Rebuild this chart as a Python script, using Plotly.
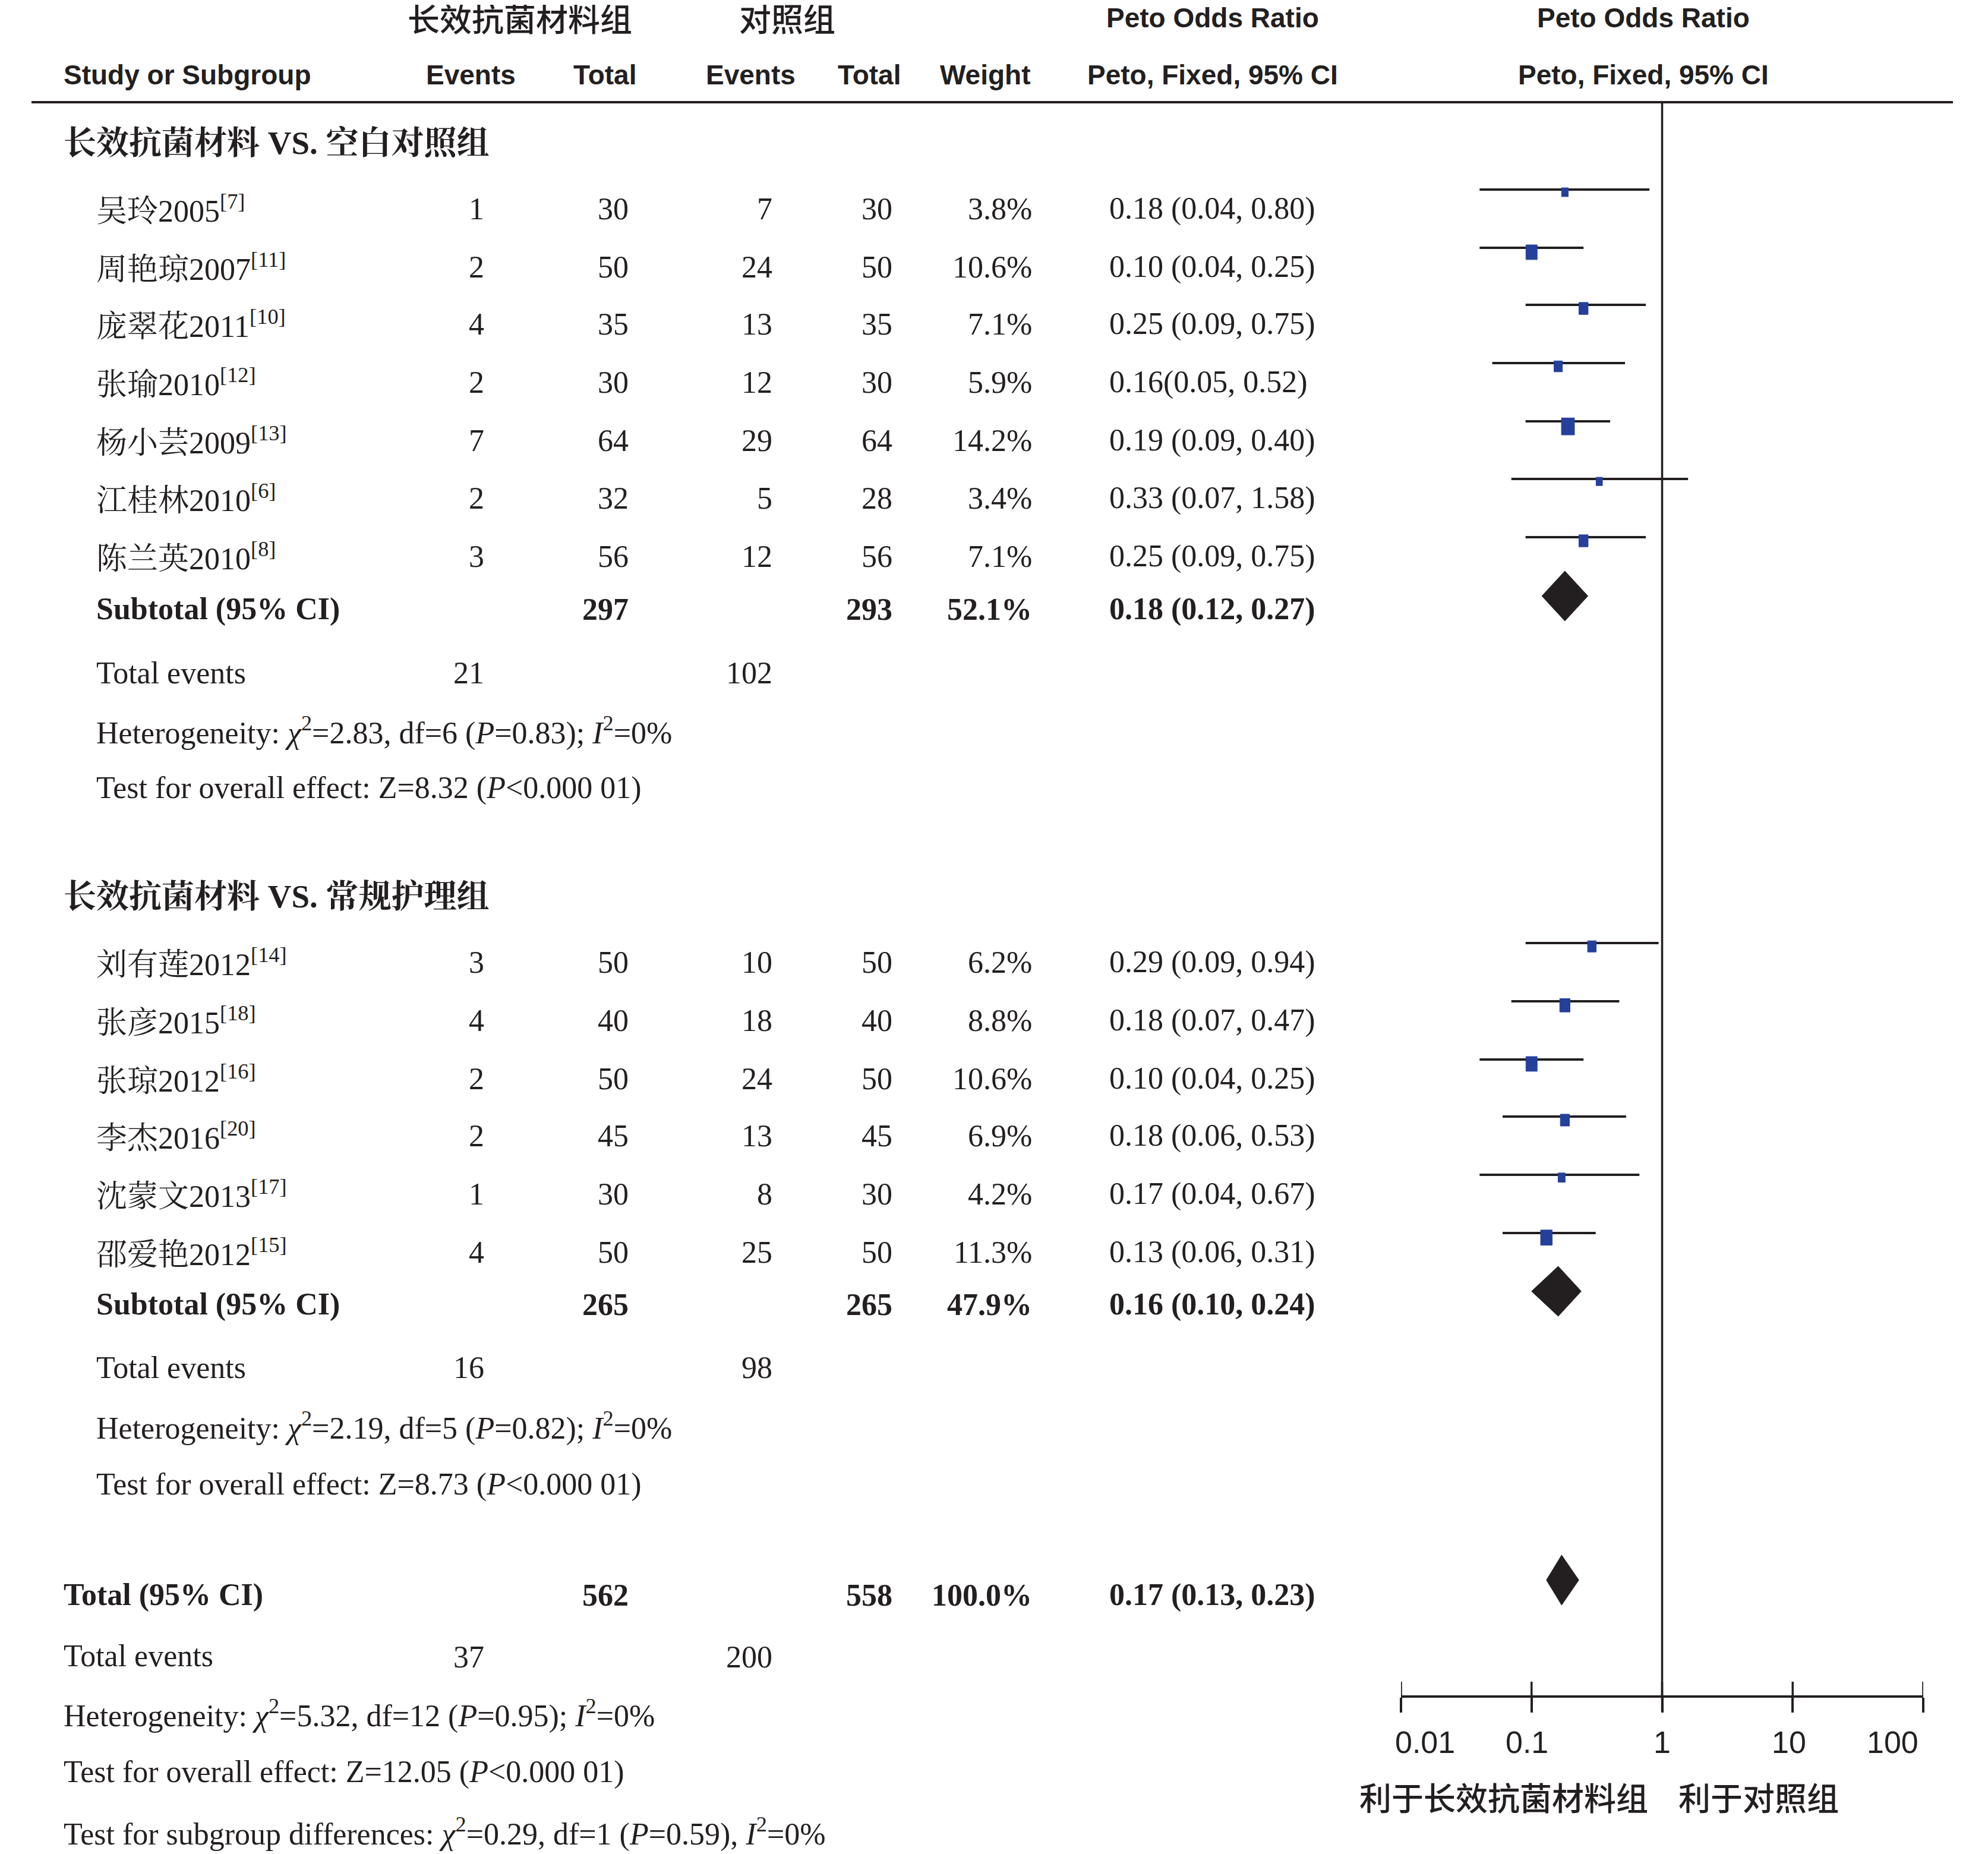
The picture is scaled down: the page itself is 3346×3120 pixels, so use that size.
import math
import plotly.graph_objects as go

W, H = 3346, 3120

# ---------------- data ----------------
group_titles = ["长效抗菌材料 VS. 空白对照组", "长效抗菌材料 VS. 常规护理组"]

g1_names = ["吴玲2005", "周艳琼2007", "庞翠花2011", "张瑜2010", "杨小芸2009", "江桂林2010", "陈兰英2010"]
g1_refs = ["7", "11", "10", "12", "13", "6", "8"]
g1_exp_events = [1, 2, 4, 2, 7, 2, 3]
g1_exp_total = [30, 50, 35, 30, 64, 32, 56]
g1_ctl_events = [7, 24, 13, 12, 29, 5, 12]
g1_ctl_total = [30, 50, 35, 30, 64, 28, 56]
g1_weight = [3.8, 10.6, 7.1, 5.9, 14.2, 3.4, 7.1]
g1_or = [0.18, 0.10, 0.25, 0.16, 0.19, 0.33, 0.25]
g1_lo = [0.04, 0.04, 0.09, 0.05, 0.09, 0.07, 0.09]
g1_hi = [0.80, 0.25, 0.75, 0.52, 0.40, 1.58, 0.75]

g2_names = ["刘有莲2012", "张彦2015", "张琼2012", "李杰2016", "沈蒙文2013", "邵爱艳2012"]
g2_refs = ["14", "18", "16", "20", "17", "15"]
g2_exp_events = [3, 4, 2, 2, 1, 4]
g2_exp_total = [50, 40, 50, 45, 30, 50]
g2_ctl_events = [10, 18, 24, 13, 8, 25]
g2_ctl_total = [50, 40, 50, 45, 30, 50]
g2_weight = [6.2, 8.8, 10.6, 6.9, 4.2, 11.3]
g2_or = [0.29, 0.18, 0.10, 0.18, 0.17, 0.13]
g2_lo = [0.09, 0.07, 0.04, 0.06, 0.04, 0.06]
g2_hi = [0.94, 0.47, 0.25, 0.53, 0.67, 0.31]

sub_exp_total = [297, 265]
sub_ctl_total = [293, 265]
sub_weight = [52.1, 47.9]
sub_or = [0.18, 0.16]
sub_lo = [0.12, 0.10]
sub_hi = [0.27, 0.24]
sub_exp_events = [21, 16]
sub_ctl_events = [102, 98]
sub_chi2 = [2.83, 2.19]
sub_df = [6, 5]
sub_p = ["0.83", "0.82"]
sub_i2 = [0, 0]
sub_z = [8.32, 8.73]

tot_exp_total = 562
tot_ctl_total = 558
tot_weight = 100.0
tot_or, tot_lo, tot_hi = 0.17, 0.13, 0.23
tot_exp_events = 37
tot_ctl_events = 200
tot_chi2, tot_df, tot_p, tot_i2 = 5.32, 12, "0.95", 0
tot_z = 12.05
diff_chi2, diff_df, diff_p, diff_i2 = 0.29, 1, "0.59", 0

tick_vals = [0.01, 0.1, 1, 10, 100]
tick_text = ["0.01", "0.1", "1", "10", "100"]
favours = ["利于长效抗菌材料组", "利于对照组"]

# ---------------- layout constants (pixels, page coordinates) ----------------
DARK = "#231f20"
BLUE = "#25409b"
SERIF = "Liberation Serif, Noto Serif CJK SC, Noto Sans CJK SC, serif"
HSANS = "Liberation Sans Narrow, Arial Narrow, Liberation Sans, Noto Sans CJK SC, sans-serif"
CJK = "Noto Sans CJK SC, sans-serif"
FS = 52
HFS = 46

# the page body adds a small margin; compensate so page pixels match
PAGE_OX, PAGE_OY = 8, 7

X_GROUP, X_NAME = 105, 160
X_EE, X_ET, X_CE, X_CT, X_W, X_CI = 817, 1060, 1302, 1504, 1739, 1865
AX_LEFT, AX_RIGHT = 2358, 3237
AX_Y = 2854
RULE_Y = 171
TICKLABEL_Y = 2931
TICKLABEL_SHIFT = [40, -8, 0, -6, -52]

g1_title_y = 239
g1_rows = [350, 448, 544, 642, 740, 837, 935]
g2_title_y = 1507
g2_rows = [1618, 1716, 1814, 1910, 2008, 2106]
sub_rows = [1024, 2194]
te_rows = [1131, 2300]
het_rows = [1229, 2399]
z_rows = [1325, 2497]
TOT_Y, TOT_TE_Y, TOT_HET_Y, TOT_Z_Y, DIFF_Y = 2683, 2787, 2883, 2981, 3082

MARK_OFF = 32
DIA_OFF = 22
DIA_H = 42


def px(xp):
    return (xp - PAGE_OX) / W


x_dom = [px(AX_LEFT), px(AX_RIGHT)]
px_per_dec = (AX_RIGHT - AX_LEFT) / 4.0

fig = go.Figure()
annotations = []


def ann(text, x, y, anchor="left", family=SERIF, size=FS, bold=False, weight=None):
    font = dict(family=family, size=size, color=DARK)
    if bold:
        font["weight"] = 700
    elif weight is not None:
        font["weight"] = weight
    annotations.append(dict(
        text=text, x=px(x), y=y, xref="paper", yref="y",
        xanchor=anchor, yanchor="middle", showarrow=False, font=font,
    ))


def ci_label(o, l, h, gap=" "):
    return f"{o:.2f}{gap}({l:.2f}, {h:.2f})"


# ---------------- header ----------------
ann("长效抗菌材料组", 875, 28, "center", CJK, 54, weight=500)
ann("对照组", 1325, 28, "center", CJK, 54, weight=500)
ann("Peto Odds Ratio", 2041, 29, "center", HSANS, HFS, True)
ann("Peto Odds Ratio", 2766, 29, "center", HSANS, HFS, True)
ann("Study or Subgroup", X_GROUP, 125, "left", HSANS, HFS, True)
for lbl, cx in [("Events", 792), ("Total", 1018), ("Events", 1263), ("Total", 1463),
                ("Weight", 1658), ("Peto, Fixed, 95% CI", 2041), ("Peto, Fixed, 95% CI", 2766)]:
    ann(lbl, cx, 125, "center", HSANS, HFS, True)

# ---------------- groups ----------------
groups = [
    (g1_names, g1_refs, g1_exp_events, g1_exp_total, g1_ctl_events, g1_ctl_total,
     g1_weight, g1_or, g1_lo, g1_hi, g1_rows, g1_title_y),
    (g2_names, g2_refs, g2_exp_events, g2_exp_total, g2_ctl_events, g2_ctl_total,
     g2_weight, g2_or, g2_lo, g2_hi, g2_rows, g2_title_y),
]

for gi, (names, refs, ee, et, ce, ct, wt, ors, los, his, rows, ty) in enumerate(groups):
    ann(group_titles[gi], X_GROUP, ty, "left", SERIF + ", " + CJK, 55, True)
    for i in range(len(names)):
        y = rows[i]
        ann(f"{names[i]}<sup>[{refs[i]}]</sup>", X_NAME, y, "left")
        ann(str(ee[i]), X_EE, y, "right")
        ann(str(et[i]), X_ET, y, "right")
        ann(str(ce[i]), X_CE, y, "right")
        ann(str(ct[i]), X_CT, y, "right")
        ann(f"{wt[i]:.1f}%", X_W, y, "right")
        gap = "" if (gi == 0 and i == 3) else " "
        ann(ci_label(ors[i], los[i], his[i], gap), X_CI, y, "left")

    # CI lines
    xs, ys = [], []
    for i in range(len(names)):
        yl = rows[i] - MARK_OFF
        xs += [los[i], his[i], None]
        ys += [yl, yl, None]
    fig.add_trace(go.Scatter(x=xs, y=ys, mode="lines",
                             line=dict(color=DARK, width=4), hoverinfo="skip"))
    # weight squares
    for i in range(len(names)):
        yl = rows[i] - MARK_OFF
        w_px = 5.8 * math.sqrt(wt[i])
        h_px = 7.6 * math.sqrt(wt[i])
        hw = w_px / 2 / px_per_dec
        x0, x1 = ors[i] * 10 ** (-hw), ors[i] * 10 ** hw
        y0, y1 = yl - 0.2 * h_px, yl + 0.8 * h_px
        fig.add_trace(go.Scatter(x=[x0, x1, x1, x0, x0], y=[y0, y0, y1, y1, y0],
                                 mode="lines", fill="toself", fillcolor=BLUE,
                                 line=dict(color=BLUE, width=1), hoverinfo="skip"))

    # subtotal
    sy = sub_rows[gi]
    ann("Subtotal (95% CI)", X_NAME, sy, "left", bold=True)
    ann(str(sub_exp_total[gi]), X_ET, sy, "right", bold=True)
    ann(str(sub_ctl_total[gi]), X_CT, sy, "right", bold=True)
    ann(f"{sub_weight[gi]:.1f}%", X_W, sy, "right", bold=True)
    ann(ci_label(sub_or[gi], sub_lo[gi], sub_hi[gi]), X_CI, sy, "left", bold=True)
    cy = sy - DIA_OFF
    fig.add_trace(go.Scatter(
        x=[sub_lo[gi], sub_or[gi], sub_hi[gi], sub_or[gi], sub_lo[gi]],
        y=[cy, cy - DIA_H, cy, cy + DIA_H, cy],
        mode="lines", fill="toself", fillcolor=DARK,
        line=dict(color=DARK, width=1), hoverinfo="skip"))

    ann("Total events", X_NAME, te_rows[gi], "left")
    ann(str(sub_exp_events[gi]), X_EE, te_rows[gi], "right")
    ann(str(sub_ctl_events[gi]), X_CE, te_rows[gi], "right")
    ann(f"Heterogeneity: <i>χ</i><sup>2</sup>={sub_chi2[gi]:.2f}, df={sub_df[gi]} "
        f"(<i>P</i>={sub_p[gi]}); <i>I</i><sup>2</sup>={sub_i2[gi]}%", X_NAME, het_rows[gi], "left")
    ann(f"Test for overall effect: Z={sub_z[gi]:.2f} (<i>P</i>&lt;0.000 01)", X_NAME, z_rows[gi], "left")

# ---------------- overall total ----------------
ann("Total (95% CI)", X_GROUP, TOT_Y, "left", bold=True)
ann(str(tot_exp_total), X_ET, TOT_Y, "right", bold=True)
ann(str(tot_ctl_total), X_CT, TOT_Y, "right", bold=True)
ann(f"{tot_weight:.1f}%", X_W, TOT_Y, "right", bold=True)
ann(ci_label(tot_or, tot_lo, tot_hi), X_CI, TOT_Y, "left", bold=True)
cy = TOT_Y - 25
fig.add_trace(go.Scatter(
    x=[tot_lo, tot_or, tot_hi, tot_or, tot_lo],
    y=[cy, cy - DIA_H, cy, cy + DIA_H, cy],
    mode="lines", fill="toself", fillcolor=DARK,
    line=dict(color=DARK, width=1), hoverinfo="skip"))

ann("Total events", X_GROUP, TOT_TE_Y - 2, "left")
ann(str(tot_exp_events), X_EE, TOT_TE_Y, "right")
ann(str(tot_ctl_events), X_CE, TOT_TE_Y, "right")
ann(f"Heterogeneity: <i>χ</i><sup>2</sup>={tot_chi2:.2f}, df={tot_df} "
    f"(<i>P</i>={tot_p}); <i>I</i><sup>2</sup>={tot_i2}%", X_GROUP, TOT_HET_Y, "left")
ann(f"Test for overall effect: Z={tot_z:.2f} (<i>P</i>&lt;0.000 01)", X_GROUP, TOT_Z_Y, "left")
ann(f"Test for subgroup differences: <i>χ</i><sup>2</sup>={diff_chi2:.2f}, df={diff_df} "
    f"(<i>P</i>={diff_p}), <i>I</i><sup>2</sup>={diff_i2}%", X_GROUP, DIFF_Y, "left")

# ---------------- reference line & axis ticks ----------------
fig.add_trace(go.Scatter(x=[1, 1], y=[RULE_Y, AX_Y], mode="lines",
                         line=dict(color=DARK, width=3.5), hoverinfo="skip"))
tx, tyy = [], []
for v in tick_vals:
    tx += [v, v, None]
    tyy += [AX_Y - 25, AX_Y + 25, None]
fig.add_trace(go.Scatter(x=tx, y=tyy, mode="lines",
                         line=dict(color=DARK, width=3.5), hoverinfo="skip"))
# tick labels placed on the log axis
for v, t, sh in zip(tick_vals, tick_text, TICKLABEL_SHIFT):
    annotations.append(dict(
        text=t, x=math.log10(v), y=TICKLABEL_Y, xref="x", yref="y",
        xanchor="center", yanchor="middle", xshift=sh, showarrow=False,
        font=dict(family=HSANS, size=52, color=DARK),
    ))

ann(favours[0], 2531, 3022, "center", CJK, 54, weight=500)
ann(favours[1], 2960, 3022, "center", CJK, 54, weight=500)

fig.update_layout(
    width=W, height=H,
    margin=dict(l=0, r=0, t=0, b=0, pad=0, autoexpand=False),
    paper_bgcolor="white", plot_bgcolor="white",
    showlegend=False,
    annotations=annotations,
    shapes=[dict(type="line", xref="paper", yref="y", x0=px(53), x1=px(3287),
                 y0=RULE_Y, y1=RULE_Y, line=dict(color=DARK, width=4))],
    xaxis=dict(
        type="log", range=[-2, 2], domain=x_dom,
        anchor="free", position=(H - (AX_Y - PAGE_OY)) / H, automargin=False,
        showline=True, linecolor=DARK, linewidth=3.5,
        showgrid=False, zeroline=False,
        tickvals=tick_vals, showticklabels=False,
        ticks="outside", ticklen=25, tickwidth=3.5, tickcolor=DARK,
    ),
    yaxis=dict(range=[H + PAGE_OY, PAGE_OY], domain=[0, 1], visible=False, automargin=False,
               showgrid=False, zeroline=False),
)

fig.write_html("out.html")
